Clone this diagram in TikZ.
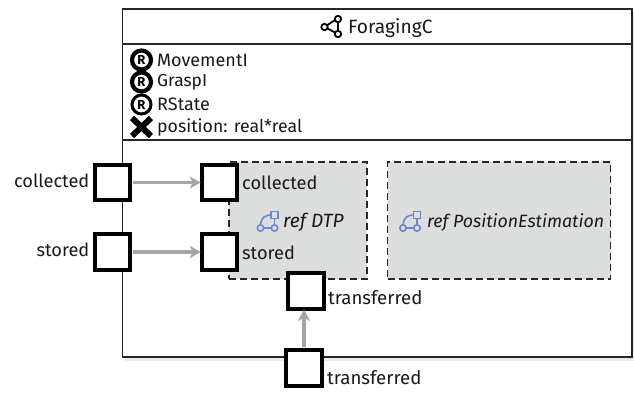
\documentclass[tikz,border=0pt]{standalone}
\usepackage{fontspec}
\setmainfont{Fira Sans}
\usetikzlibrary{arrows.meta}
\definecolor{refgray}{HTML}{DCDDDD}
\definecolor{arrowgray}{HTML}{A6A6A6}
\definecolor{iconblue}{HTML}{6F86CC}
\tikzset{
  x=1pt,y=-1pt,
  portbox/.style={draw=black,fill=white,line width=4pt,minimum width=35.5pt,minimum height=35.5pt,inner sep=0pt,outer sep=2pt},
  refbox/.style={draw=black!85,fill=refgray,dash pattern=on 7pt off 4pt,line width=1.5pt,inner sep=0pt,outer sep=0pt},
  lbl/.style={inner sep=0pt,font=\fontsize{18}{20}\selectfont,text=black!90},
  ilbl/.style={inner sep=0pt,font=\itshape\fontsize{18}{20}\selectfont,text=black!90},
  flow/.style={draw=arrowgray,line width=3.2pt,-{Stealth[length=11pt,width=12pt,inset=3pt]},shorten <=1pt,shorten >=-1pt},
  rmark/.style={circle,draw=black,fill=white,inner sep=0pt,minimum size=19pt,font=\bfseries\fontsize{13}{13}\selectfont},
  sep/.style={draw=black!85,line width=1.5pt},
  iconline/.style={draw=iconblue,line width=1.6pt},
}
\newcommand{\refIcon}[2]{%
  \begin{scope}[shift={(#1,#2)}]
    \draw[iconline] (0,13) circle (3.2pt);
    \draw[iconline] (14,13) circle (3.2pt);
    \draw[iconline] (3.2,13) -- (10.8,13);
    \draw[iconline] (14,3) -- (14,9.8);
    \draw[iconline] (0,9.8) .. controls (1,2) and (5,0) .. (10.5,0);
    \draw[iconline,fill=refgray] (10.5,-3.5) rectangle (17.5,3.5);
  \end{scope}}
\begin{document}
\begin{tikzpicture}
\useasboundingbox (0,0) rectangle (634,392);
% soft shadow of the block
\fill[black!8] (125,12) rectangle (634,361);
% main block
\node[draw=black!85,fill=white,line width=1.5pt,minimum width=509.5pt,minimum height=348pt,inner sep=0pt,outer sep=0pt,anchor=north west] (block) at (122.5,9) {};
\draw[sep] (block.west |- 0,44) -- (block.east |- 0,44);
\draw[sep] (block.west |- 0,140) -- (block.east |- 0,140);
% title
\node[lbl,anchor=west,font=\fontsize{19.2}{20}\selectfont] (title) at (348,28) {ForagingC};
\begin{scope}[shift={(321,27)}]
  \draw[line width=1.8pt,black] (3.5,0) -- (17,-9) (3.5,0) -- (17,7) (17,-9) -- (17,7);
  \draw[line width=1.8pt,black,fill=white] (3.5,0) circle (3.2pt) (17,-8) circle (3.2pt) (17,7) circle (3.2pt);
\end{scope}
% members
\node[rmark,line width=4.2pt] (r1) at (141.5,60) {R};
\node[rmark,line width=4.2pt] (r2) at (141.5,82) {R};
\node[rmark,line width=3pt] (r3) at (141.5,104.5) {R};
\draw[line width=6pt,black] (132,118) -- (151,136) (151,118) -- (132,136);
\node[lbl,anchor=west] (m1) at (157,60) {MovementI};
\node[lbl,anchor=west,font=\fontsize{17.4}{20}\selectfont] (m2) at (157,82) {GraspI};
\node[lbl,anchor=west] (m3) at (157,104) {RState};
\node[lbl,anchor=west,font=\fontsize{17.7}{20}\selectfont] (m4) at (157,127) {position: real*real};
% ref boxes
\node[refbox,minimum width=138pt,minimum height=117pt,anchor=north west] (dtp) at (229,162) {};
\node[refbox,minimum width=223pt,minimum height=117pt,anchor=north west] (pos) at (387.5,162) {};
\refIcon{260.5}{215}
\refIcon{403}{215}
\node[ilbl,anchor=west,font=\itshape\fontsize{19.2}{20}\selectfont] (dtpl) at (283,222) {ref DTP};
\node[ilbl,anchor=west,font=\itshape\fontsize{17.8}{20}\selectfont] (posl) at (427,222) {ref PositionEstimation};
% ports
\node[portbox] (collOut) at (112.5,182.5) {};
\node[portbox] (storOut) at (112.5,252) {};
\node[portbox] (collIn) at (219.5,182.5) {};
\node[portbox] (storIn) at (219.5,252) {};
\node[portbox] (trIn) at (306,291) {};
\node[portbox] (trOut) at (304,368) {};
% port labels
\node[lbl,anchor=east,font=\fontsize{18.2}{20}\selectfont] (l1) at (89.5,181) {collected};
\node[lbl,anchor=east,font=\fontsize{18.2}{20}\selectfont] (l2) at (89.5,250) {stored};
\node[lbl,anchor=west,font=\fontsize{18.2}{20}\selectfont] (l3) at (242,183) {collected};
\node[lbl,anchor=west,font=\fontsize{18.2}{20}\selectfont] (l4) at (242,253) {stored};
\node[lbl,anchor=west,font=\fontsize{18.6}{20}\selectfont] (l5) at (328,298) {transferred};
\node[lbl,anchor=west,font=\fontsize{18.6}{20}\selectfont] (l6) at (327,378) {transferred};
% flows
\draw[flow] (collOut.east) -- (collIn.west);
\draw[flow] (storOut.east) -- (storIn.west);
\draw[flow] (trOut.north) -- (trOut.north |- trIn.south);
\end{tikzpicture}
\end{document}
